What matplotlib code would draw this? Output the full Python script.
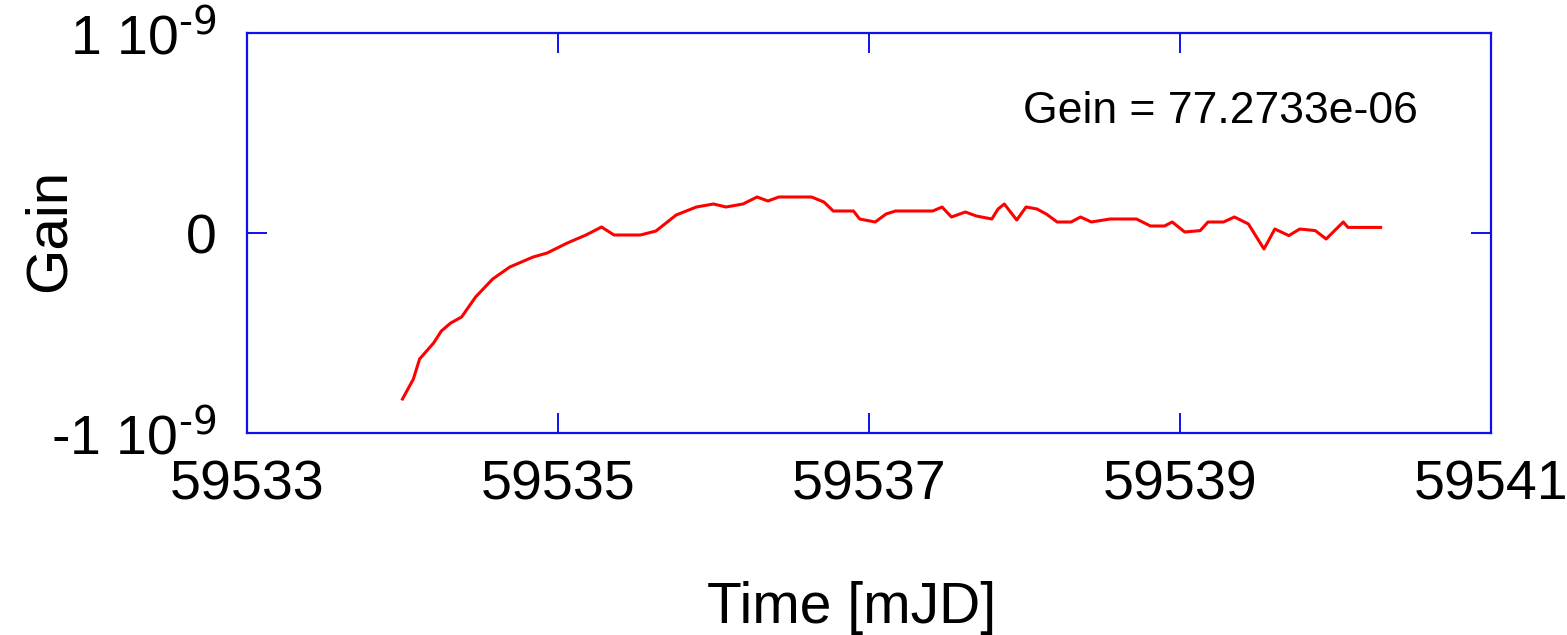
import matplotlib
matplotlib.use("Agg")
import matplotlib.pyplot as plt
from matplotlib.ticker import FixedLocator, FuncFormatter

plt.rcParams['font.family'] = ['Liberation Sans', 'DejaVu Sans']
plt.rcParams['mathtext.default'] = 'regular'

# Gain drift vs time (mJD); gain in units of 1e-9
time_mjd = [
    59534.00, 59534.07, 59534.11, 59534.20, 59534.25, 59534.31, 59534.38,
    59534.47, 59534.58, 59534.69, 59534.84, 59534.93, 59535.06, 59535.18,
    59535.28, 59535.36, 59535.53, 59535.63, 59535.76, 59535.89, 59536.00,
    59536.08, 59536.19, 59536.28, 59536.35, 59536.42, 59536.63, 59536.71,
    59536.77, 59536.90, 59536.94, 59537.04, 59537.11, 59537.17, 59537.41,
    59537.47, 59537.53, 59537.62, 59537.69, 59537.79, 59537.83, 59537.87,
    59537.95, 59538.01, 59538.08, 59538.14, 59538.21, 59538.30, 59538.36,
    59538.43, 59538.55, 59538.72, 59538.81, 59538.90, 59538.95, 59539.03,
    59539.13, 59539.18, 59539.28, 59539.35, 59539.44, 59539.54, 59539.61,
    59539.70, 59539.77, 59539.87, 59539.94, 59540.05, 59540.08, 59540.29,
]
gain_e9 = [
    -0.83, -0.73, -0.63, -0.55, -0.49, -0.45, -0.42,
    -0.32, -0.23, -0.17, -0.12, -0.10, -0.05, -0.01,
    0.03, -0.01, -0.01, 0.01, 0.09, 0.13, 0.145,
    0.13, 0.145, 0.18, 0.16, 0.18, 0.18, 0.155,
    0.11, 0.11, 0.07, 0.055, 0.095, 0.11, 0.11,
    0.13, 0.08, 0.105, 0.085, 0.07, 0.12, 0.145,
    0.065, 0.13, 0.12, 0.095, 0.055, 0.055, 0.08,
    0.055, 0.07, 0.07, 0.035, 0.035, 0.055, 0.005,
    0.012, 0.055, 0.055, 0.08, 0.045, -0.08, 0.02,
    -0.013, 0.02, 0.012, -0.03, 0.055, 0.028, 0.028,
]
gain = [g * 1e-9 for g in gain_e9]

xtick_values = [59533, 59535, 59537, 59539, 59541]
ytick_values = [-1e-9, 0.0, 1e-9]
ytick_labels = {-1e-9: r'-1 10$^{\text{-9}}$', 0.0: '0', 1e-9: r'1 10$^{\text{-9}}$'}
annotation = 'Gein = 77.2733e-06'

W, H = 1567, 635
fig = plt.figure(figsize=(W / 100, H / 100), dpi=100)
ax = fig.add_axes([247 / W, 1 - 433 / H, (1491 - 247) / W, (433 - 33) / H])

ax.plot(time_mjd, gain, color='#ff0000', lw=2.2)

ax.set_xlim(59533, 59541)
ax.set_ylim(-1e-9, 1e-9)

blue = '#1010ee'
for sp in ax.spines.values():
    sp.set_color(blue)
    sp.set_linewidth(1.6)

ax.xaxis.set_major_locator(FixedLocator(xtick_values))
ax.yaxis.set_major_locator(FixedLocator(ytick_values))
ax.yaxis.set_major_formatter(FuncFormatter(
    lambda v, p: ytick_labels.get(min(ytick_labels, key=lambda k: abs(k - v)), '')))
ax.tick_params(axis='both', direction='in', length=14.4, width=1.4, color=blue,
               labelsize=40, top=True, right=True)
ax.tick_params(axis='x', pad=19)
ax.tick_params(axis='y', pad=22)

fig.text(852 / W, 1 - 623 / H, 'Time [mJD]', ha='center', va='baseline', fontsize=41)
fig.text(65 / W, 1 - 230 / H, 'Gain', ha='center', va='baseline', fontsize=42,
         rotation=90, rotation_mode='anchor')
fig.text(1023 / W, 1 - 123 / H, annotation, ha='left', va='baseline', fontsize=32)

fig.savefig('out.png', dpi=100)
